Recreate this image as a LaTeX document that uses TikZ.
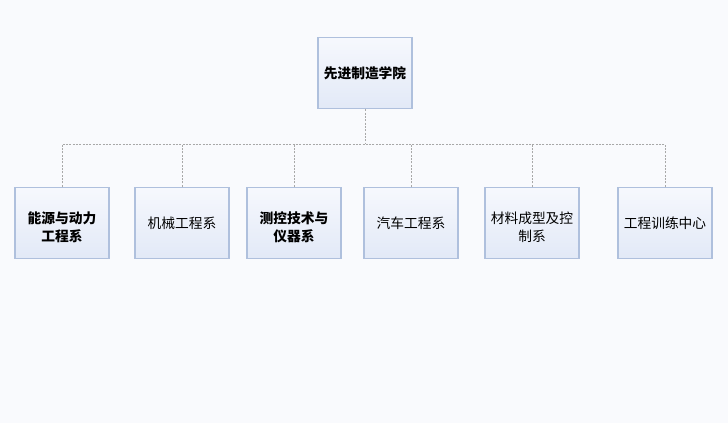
\documentclass[tikz,border=0pt]{standalone}
\usepackage{fontspec}
\setmainfont{Noto Sans CJK SC}
\usetikzlibrary{calc}
\definecolor{bgc}{HTML}{F9FAFD}
\definecolor{boxtop}{HTML}{F6F8FD}
\definecolor{boxbot}{HTML}{E2E9F7}
\definecolor{boxdraw}{HTML}{AFC0DD}
\definecolor{linec}{HTML}{A8A8A8}
\newcommand{\twolines}[2]{\raisebox{-4.5pt}[\height][\depth]{\begin{tabular}{@{}c@{}}#1\\#2\end{tabular}}}
\tikzset{
  orgbox/.style={draw=boxdraw, line width=0.9pt, top color=boxtop, bottom color=boxbot,
    minimum width=70.5pt, minimum height=53.5pt, inner sep=2pt, align=center,
    font=\fontsize{10.3pt}{13.5pt}\selectfont, text=black},
  boldtxt/.style={font=\fontsize{10.3pt}{13.5pt}\selectfont\bfseries},
  link/.style={draw=linec, line width=0.5pt, dash pattern=on 1.5pt off 1pt}
}
\begin{document}
\begin{tikzpicture}[x=0.75pt,y=-0.75pt]
\fill[bgc] (0,0) rectangle (728,423);
\useasboundingbox (0,0) rectangle (728,423);
\node[orgbox, boldtxt] (top) at (365,73) {先进制造学院};
\node[orgbox, boldtxt] (d1) at (62,223) {\twolines{能源与动力}{工程系}};
\node[orgbox] (d2) at (182,223) {机械工程系};
\node[orgbox, boldtxt] (d3) at (294,223) {\twolines{测控技术与}{仪器系}};
\node[orgbox] (d4) at (411,223) {汽车工程系};
\node[orgbox] (d5) at (532,223) {\twolines{材料成型及控}{制系}};
\node[orgbox] (d6) at (665,223) {工程训练中心};
\coordinate (bus) at (365,144);
\draw[link] (top.south) -- (bus);
\draw[link] (d1.north) |- (bus);
\draw[link] (d6.north) |- (bus);
\foreach \n in {d2,d3,d4,d5} {
  \draw[link] (\n.north) -- (\n.north |- bus);
}
\end{tikzpicture}
\end{document}
